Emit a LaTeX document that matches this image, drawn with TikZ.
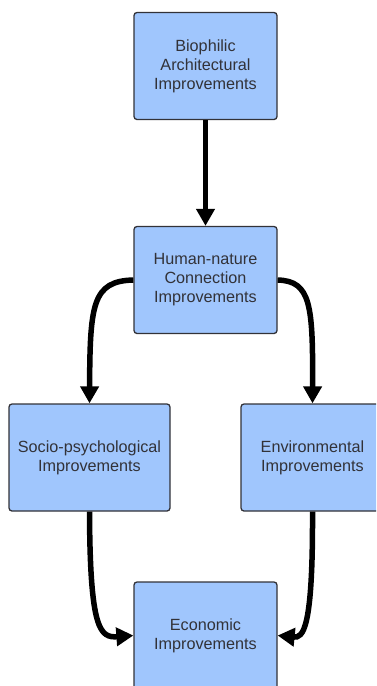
\documentclass[tikz,border=0pt]{standalone}
\usepackage{fontspec}
\setmainfont{Liberation Sans}
\usepackage{xcolor}
\usepackage{tikz}
\usetikzlibrary{arrows.meta}

\definecolor{boxblue}{RGB}{160,198,253}
\definecolor{boxline}{RGB}{50,50,56}

\begin{document}
\begin{tikzpicture}[
  x=1pt, y=-1pt,
  >={Triangle[length=17pt, width=18pt]},
  edge/.style={->, line width=5.5pt, black},
  box/.style={draw=boxline, line width=1.3pt, fill=boxblue, rounded corners=3pt,
    text=boxline, align=center, inner sep=0pt, minimum height=107pt,
    font=\fontsize{16.2}{19}\selectfont}
]
  \clip (0,0) rectangle (376,686);
  % nodes
  \node[box, minimum width=143pt] (bio)   at (205.5,66)    {Biophilic\\Architectural\\Improvements};
  \node[box, minimum width=143pt] (hnc)   at (205.5,280)   {Human-nature\\Connection\\Improvements};
  \node[box, minimum width=161pt] (socio) at (89.5,457.5)  {Socio-psychological\\Improvements};
  \node[box, minimum width=143pt] (env)   at (312.5,457.5) {Environmental\\Improvements};
  \node[box, minimum width=143pt] (econ)  at (205.5,635.5) {Economic\\Improvements};

  % edges
  \draw[edge] (bio.south) -- (hnc.north);
  \draw[edge] (hnc.west) .. controls (92,281) and (90,305) .. (socio.north);
  \draw[edge] (hnc.east) .. controls (311,281) and (313,305) .. (env.north);
  \draw[edge] (socio.south) .. controls (90,630) and (100,638) .. (econ.west);
  \draw[edge] (env.south) .. controls (313,630) and (303,638) .. (econ.east);
\end{tikzpicture}
\end{document}
